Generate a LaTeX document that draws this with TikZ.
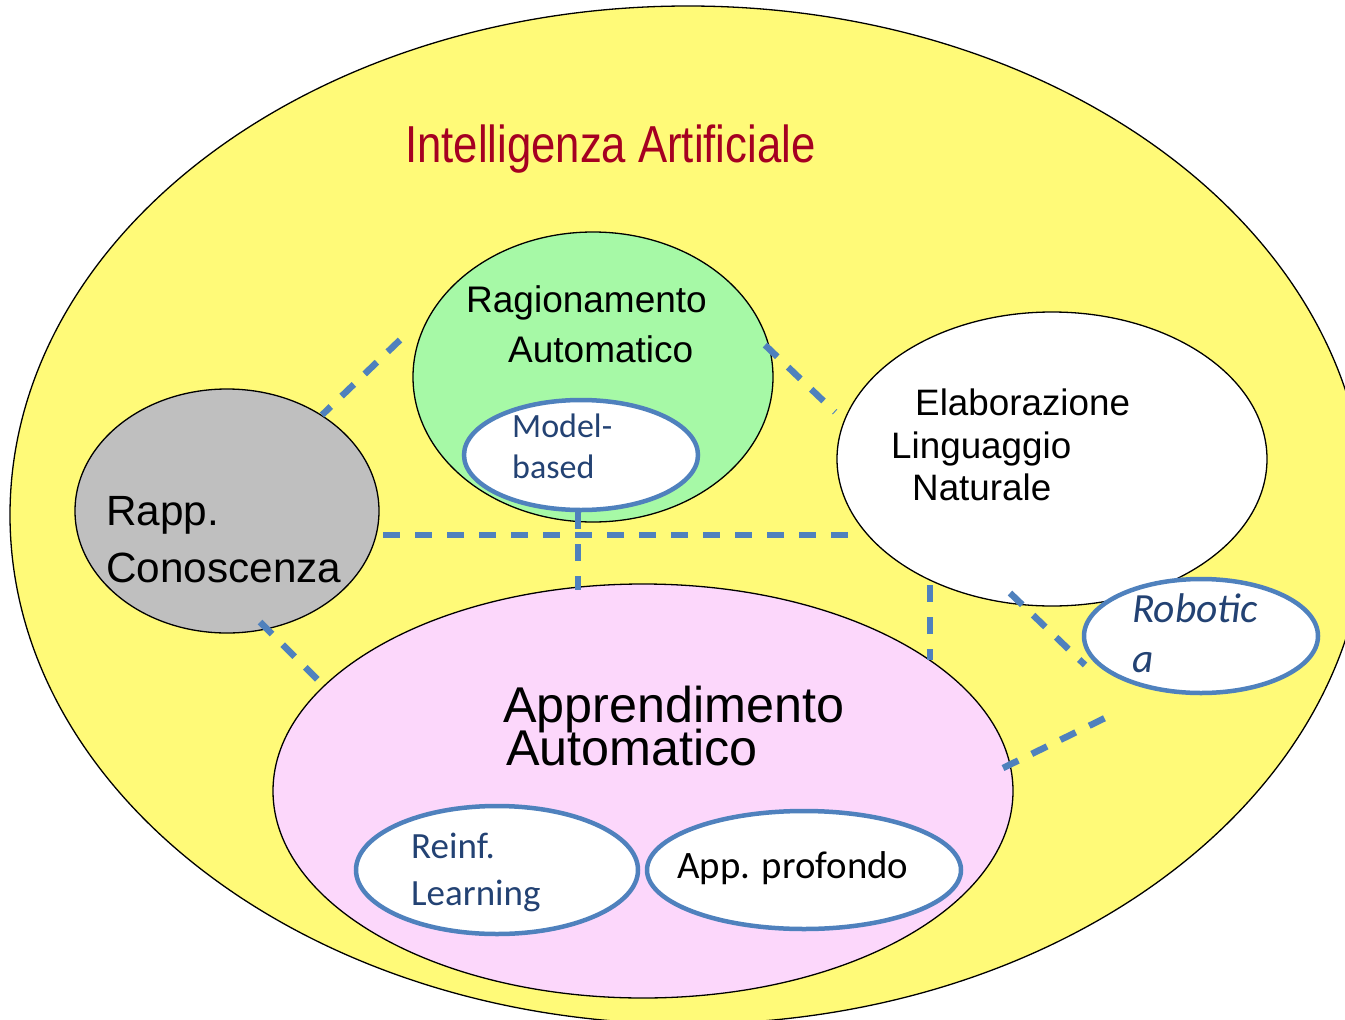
\documentclass[tikz,border=0pt]{standalone}
\usepackage{fontspec}
\setmainfont{Liberation Sans}
\newfontfamily\calibri{Carlito}
\usetikzlibrary{shapes.geometric}
\definecolor{aiyellow}{RGB}{255,250,120}
\definecolor{aigreen}{RGB}{166,249,166}
\definecolor{aigray}{RGB}{191,191,191}
\definecolor{aipink}{RGB}{252,215,251}
\definecolor{subblue}{RGB}{79,129,189}
\definecolor{linkblue}{RGB}{79,129,189}
\definecolor{titlered}{RGB}{165,0,33}
\definecolor{textblue}{RGB}{35,66,115}
\begin{document}
\begin{tikzpicture}[x=1pt,y=-1pt,
  area/.style={ellipse, draw=black, line width=1.3pt, inner sep=0pt},
  sub/.style={ellipse, draw=subblue, line width=4.5pt, fill=white, inner sep=0pt},
  link/.style={draw=linkblue, line width=6.5pt, dash pattern=on 17pt off 15pt},
  lbl/.style={anchor=base west, inner sep=0pt},
  arial/.style={font=\fontsize{#1}{#1}\selectfont},
  calib/.style={font=\calibri\fontsize{#1}{#1}\selectfont}]
\useasboundingbox (0,0) rectangle (1345,1020);
\fill[white] (0,0) rectangle (1345,1020);
% areas
\node[area, fill=aiyellow, minimum width=1356pt, minimum height=1018pt] (ai) at (688,515) {};
\node[area, fill=aigray, minimum width=304pt, minimum height=244pt] (kr) at (227,511) {};
\node[area, fill=aigreen, minimum width=360pt, minimum height=290pt] (ar) at (593,377) {};
\node[area, fill=white, minimum width=430pt, minimum height=294pt] (nlp) at (1052,459) {};
\node[area, fill=aipink, minimum width=740pt, minimum height=414pt] (ml) at (643,791) {};
% link end points
\coordinate (l1a) at (400,340); \coordinate (l1b) at (322,415);
\coordinate (l2a) at (765,345); \coordinate (l2b) at (835,412);
\coordinate (l3a) at (383,535); \coordinate (l3b) at (848,535);
\coordinate (l4a) at (578,512); \coordinate (l4b) at (578,590);
\coordinate (l5a) at (930,585); \coordinate (l5b) at (930,660);
\coordinate (l6a) at (260,622); \coordinate (l6b) at (318,680);
\coordinate (l7a) at (1010,593); \coordinate (l7b) at (1085,665);
\coordinate (l8a) at (1003,768); \coordinate (l8b) at (1105,718);
\draw[link] (l1a) -- (l1b);
\draw[link] (l2a) -- (l2b);
\draw[link] (l3a) -- (l3b);
\draw[link] (l4a) -- (l4b);
\draw[link] (l5a) -- (l5b);
\draw[link] (l6a) -- (l6b);
\draw[link] (l7a) -- (l7b);
\draw[link] (l8a) -- (l8b);
% sub areas
\node[sub, minimum width=234pt, minimum height=110pt] (mb) at (581,455) {};
\node[sub, minimum width=234pt, minimum height=114pt] (rob) at (1201,636) {};
\node[sub, minimum width=282pt, minimum height=128pt] (rl) at (497,870) {};
\node[sub, minimum width=314pt, minimum height=118pt] (dl) at (804,870) {};
% texts
\node[lbl, text=titlered, arial=52] (t-ai) at (405,162) {\scalebox{0.84}[1]{Intelligenza Artificiale}};
\node[lbl, arial=37] (t-ar1) at (466,312) {Ragionamento};
\node[lbl, arial=37] (t-ar2) at (508,362) {Automatico};
\node[lbl, arial=36.8] (t-nlp1) at (915,415) {Elaborazione};
\node[lbl, arial=36.8] (t-nlp2) at (891,458) {Linguaggio};
\node[lbl, arial=36.8] (t-nlp3) at (912,500) {Naturale};
\node[lbl, arial=42.3] (t-kr1) at (106,525) {Rapp.};
\node[lbl, arial=42.3] (t-kr2) at (106,582) {Conoscenza};
\node[lbl, arial=50.3] (t-ml1) at (503,722) {Apprendimento};
\node[lbl, arial=50.3] (t-ml2) at (506,765) {Automatico};
\node[lbl, text=textblue, calib=34] (t-mb1) at (512,437) {Model-};
\node[lbl, text=textblue, calib=34] (t-mb2) at (512,478) {based};
\node[lbl, text=textblue, calib=41.5] (t-rob1) at (1132,622) {\itshape Robotic};
\node[lbl, text=textblue, calib=41.5] (t-rob2) at (1132,672) {\itshape a};
\node[lbl, text=textblue, calib=37] (t-rl1) at (411,858) {Reinf.};
\node[lbl, text=textblue, calib=37] (t-rl2) at (411,905) {Learning};
\node[lbl, calib=38.8] (t-dl) at (677,878) {App. profondo};
\end{tikzpicture}
\end{document}
